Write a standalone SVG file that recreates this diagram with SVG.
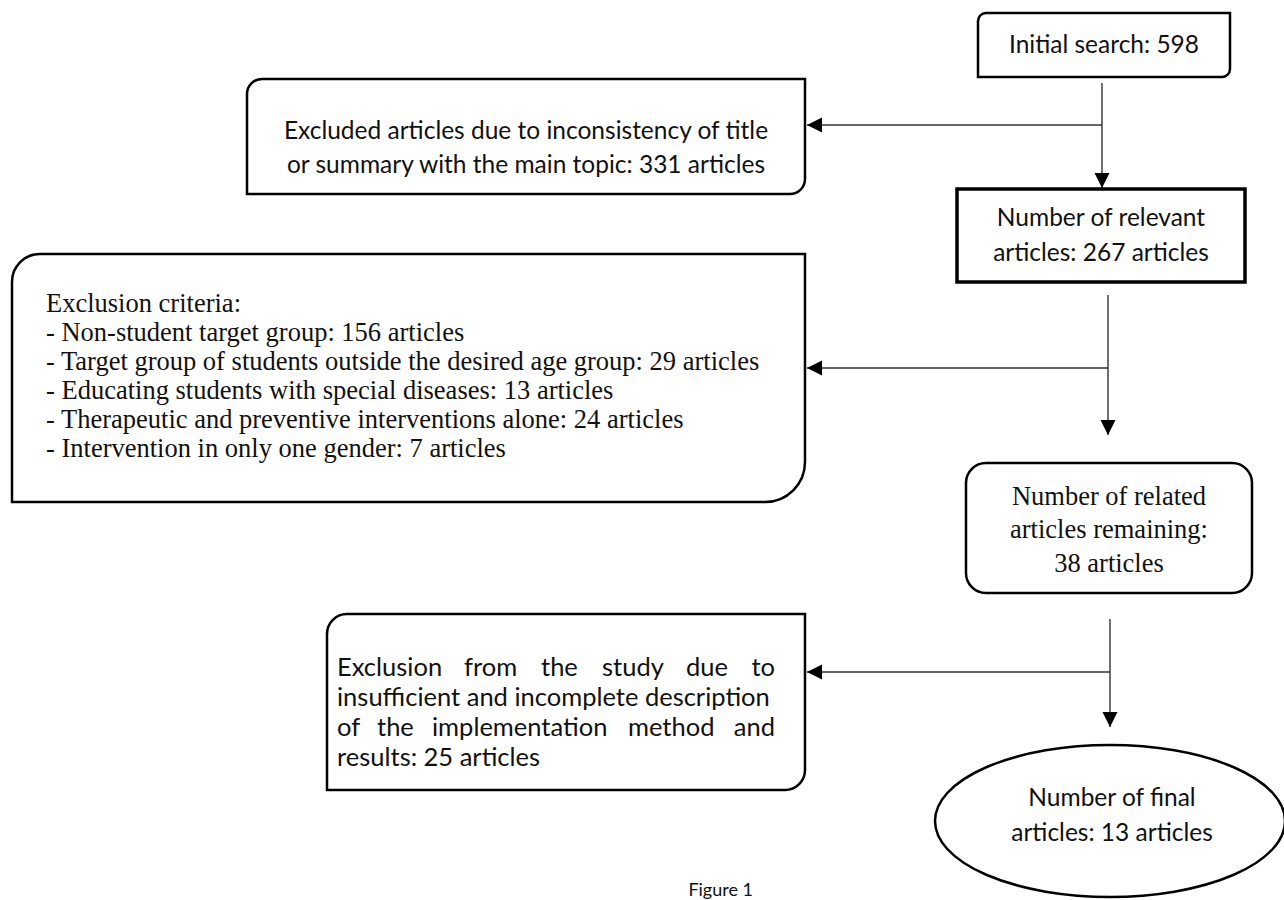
<svg xmlns="http://www.w3.org/2000/svg" width="1284" height="900" viewBox="0 0 1284 900">
<style>
.box{fill:#fff;stroke:#000;stroke-width:2.5}
.sans{font-family:Lato,"Open Sans","Liberation Sans",sans-serif;font-size:24.5px;fill:#111}
.sans6{font-family:Lato,"Open Sans","Liberation Sans",sans-serif;font-size:25.5px;fill:#111}
.serif{font-family:"Liberation Serif","Times New Roman",serif;font-size:26.5px;fill:#111}
.c{text-anchor:middle}
.conn{fill:none;stroke:#333;stroke-width:1.4}
</style>
<defs>
<marker id="ah" markerUnits="userSpaceOnUse" markerWidth="16" markerHeight="16" viewBox="0 0 16 16" refX="15" refY="8" orient="auto"><path d="M0,0.5 L15,8 L0,15.5 z" fill="#000"/></marker>
</defs>
<rect width="1284" height="900" fill="#fff"/>
<g id="connectors">
<path class="conn" d="M1102,83 V188" marker-end="url(#ah)"/>
<path class="conn" d="M1102,125 H807" marker-end="url(#ah)"/>
<path class="conn" d="M1108,295 V435" marker-end="url(#ah)"/>
<path class="conn" d="M1108,368 H807" marker-end="url(#ah)"/>
<path class="conn" d="M1110,619 V727" marker-end="url(#ah)"/>
<path class="conn" d="M1110,672 H807" marker-end="url(#ah)"/>
</g>
<g id="initial">
<path class="box" d="M978,21 A8 8 0 0 1 986,13 H1230 V69 A8 8 0 0 1 1222,77 H978 Z"/>
<text class="sans c" x="1104" y="53">Initial search: 598</text>
</g>
<g id="excluded1">
<path class="box" d="M247,94 A15 15 0 0 1 262,79 H805 V179 A15 15 0 0 1 790,194 H247 Z"/>
<text class="sans c" x="526" y="139">Excluded articles due to inconsistency of title</text>
<text class="sans c" x="526" y="173">or summary with the main topic: 331 articles</text>
</g>
<g id="relevant">
<rect x="957" y="189" width="288" height="93" fill="#fff" stroke="#000" stroke-width="3.5"/>
<text class="sans c" x="1101" y="226">Number of relevant</text>
<text class="sans c" x="1101" y="261">articles: 267 articles</text>
</g>
<g id="criteria">
<path class="box" d="M12,282 A28 28 0 0 1 40,254 H805 V462 A40 40 0 0 1 765,502 H12 Z"/>
<text class="serif" x="46" y="312">Exclusion criteria:</text>
<text class="serif" x="46" y="341">- Non-student target group: 156 articles</text>
<text class="serif" x="46" y="370">- Target group of students outside the desired age group: 29 articles</text>
<text class="serif" x="46" y="399">- Educating students with special diseases: 13 articles</text>
<text class="serif" x="46" y="428">- Therapeutic and preventive interventions alone: 24 articles</text>
<text class="serif" x="46" y="457">- Intervention in only one gender: 7 articles</text>
</g>
<g id="remaining">
<rect class="box" x="966" y="463" width="286" height="130" rx="20" ry="20"/>
<text class="serif c" x="1109" y="505">Number of related</text>
<text class="serif c" x="1109" y="538">articles remaining:</text>
<text class="serif c" x="1109" y="572">38 articles</text>
</g>
<g id="excluded2">
<path class="box" d="M327,634 A20 20 0 0 1 347,614 H805 V770 A20 20 0 0 1 785,790 H327 Z"/>
<text class="sans6" y="676"><tspan x="337">Exclusion</tspan><tspan x="464">from</tspan><tspan x="541">the</tspan><tspan x="602">study</tspan><tspan x="686">due</tspan><tspan x="775" text-anchor="end">to</tspan></text>
<text class="sans6" x="337" y="706">insufficient and incomplete description</text>
<text class="sans6" y="736"><tspan x="337">of</tspan><tspan x="377">the</tspan><tspan x="432">implementation</tspan><tspan x="628">method</tspan><tspan x="775" text-anchor="end">and</tspan></text>
<text class="sans6" x="337" y="766">results: 25 articles</text>
</g>
<g id="final">
<ellipse cx="1110" cy="821" rx="175" ry="76" fill="#fff" stroke="#000" stroke-width="2.5"/>
<text class="sans c" x="1112" y="806">Number of final</text>
<text class="sans c" x="1112" y="841">articles: 13 articles</text>
</g>
<text class="sans" x="753" y="896" text-anchor="end" style="font-size:18px">Figure 1</text>
</svg>
